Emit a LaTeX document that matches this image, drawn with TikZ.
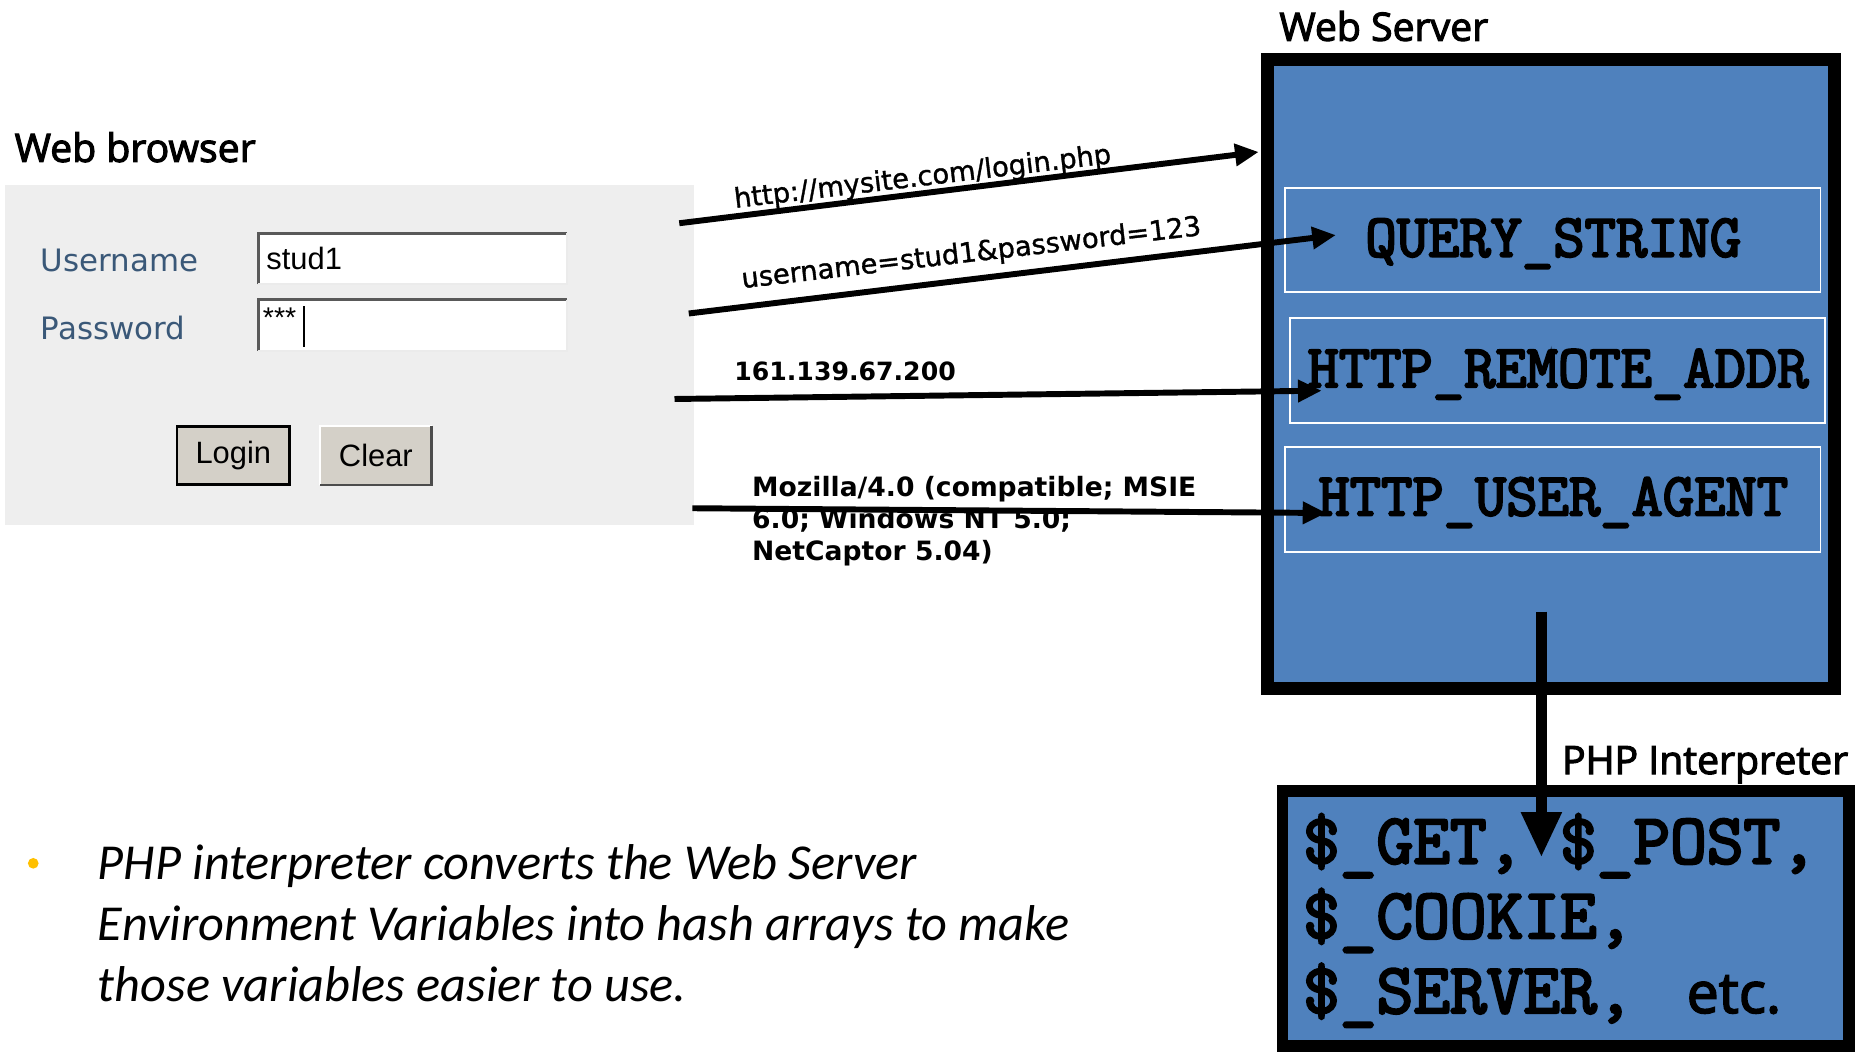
\documentclass[tikz,border=0pt]{standalone}
\usepackage{fontspec}
\setmainfont{Open Sans}
\newfontfamily\titlefont{Open Sans}[FakeBold=2.8]
\newfontfamily\labfont{DejaVu Sans}
\newfontfamily\labmed{DejaVu Sans}[FakeBold=1.2]
\newfontfamily\formfont{Liberation Sans}
\newfontfamily\bulfont{Carlito}
\newfontfamily\cmono{Latin Modern Mono}[FakeBold=3.5]
\usetikzlibrary{arrows.meta}
\definecolor{srvblue}{HTML}{4F81BD}
\definecolor{panelgray}{HTML}{EEEEEE}
\definecolor{btngray}{HTML}{D4D0C8}
\definecolor{lblblue}{HTML}{3A5878}
\definecolor{bulyellow}{HTML}{FFC000}
\begin{document}
\begin{tikzpicture}[x=0.5pt,y=-0.5pt,
  title/.style={font=\titlefont\fontsize{16.5pt}{19pt}\selectfont, inner sep=0pt},
  conn/.style={line width=2.5pt, -{Triangle[length=10pt,width=9pt]}},
  envbox/.style={draw=white, line width=0.8pt, minimum width=225.5pt, minimum height=44pt, inner sep=0pt},
  envtext/.style={font=\cmono\fontsize{25.6pt}{30pt}\selectfont, inner sep=0pt, anchor=base},
  phptext/.style={font=\cmono\fontsize{30pt}{34pt}\selectfont, inner sep=0pt, anchor=base west},
  arrlabel/.style={font=\labmed\fontsize{11.5pt}{13pt}\selectfont, inner sep=0pt},
  formlbl/.style={font=\labfont\fontsize{13pt}{15pt}\selectfont, text=lblblue, inner sep=0pt, anchor=west},
  formtxt/.style={font=\formfont\fontsize{13pt}{15pt}\selectfont, inner sep=0pt},
  fieldbox/.style={fill=white, minimum width=129.5pt, minimum height=21pt, inner sep=0pt},
  bultext/.style={font=\bulfont\itshape\fontsize{21.2pt}{25pt}\selectfont, inner sep=0pt, anchor=base west},
]
\useasboundingbox (0,0) rectangle (1568,886);

% ---------------- Web browser ----------------
\node[title, anchor=west] (wbtitle) at (12,124) {Web browser};
\node[fill=panelgray, minimum width=290pt, minimum height=143pt, inner sep=0pt] (browser) at (294,299) {};
\node[formlbl] (ulbl) at (34,219) {Username};
\node[formlbl] (plbl) at (34,276) {Password};

\node[fieldbox] (ufield) at (347.5,218) {};
\draw[black!65, line width=1.3pt] (ufield.south west) |- (ufield.north east);
\draw[black!8, line width=0.8pt] (ufield.south west) -| (ufield.north east);
\node[formtxt, anchor=west] (utext) at (224,218) {stud1};

\node[fieldbox] (pfield) at (347.5,274) {};
\draw[black!65, line width=1.3pt] (pfield.south west) |- (pfield.north east);
\draw[black!8, line width=0.8pt] (pfield.south west) -| (pfield.north east);
\node[formtxt, anchor=north west, font=\formfont\fontsize{12pt}{13pt}\selectfont] (ptext) at (221,259) {***};
\coordinate (curtop) at (256,258);
\coordinate (curbot) at (256,292);
\draw[line width=0.6pt] (curtop) -- (curbot);

\node[formtxt, fill=btngray, draw=black, line width=1.2pt, minimum width=47.5pt, minimum height=24.5pt] (login) at (196.5,383.5) {Login};
\node[formtxt, fill=btngray, minimum width=46.5pt, minimum height=24.5pt] (clear) at (316.5,383.5) {Clear};
\draw[white, line width=1pt] (clear.south west) |- (clear.north east);
\draw[black!70, line width=1.2pt] (clear.south west) -| (clear.north east);

% ---------------- Web server ----------------
\node[title, anchor=west] (wstitle) at (1077,22) {Web Server};
\node[draw=black, fill=srvblue, line width=5.5pt, minimum width=239pt, minimum height=265pt, inner sep=0pt] (server) at (1306,315) {};
\node[envbox] (qs) at (1307.5,202) {};
\node[envtext] (qst) at (1308,216) {QUERY\_STRING};
\node[envbox] (ra) at (1311.5,312) {};
\node[envtext] (rat) at (1312,326) {HTTP\_REMOTE\_ADDR};
\node[envbox] (ua) at (1307.5,420.5) {};
\node[envtext] (uat) at (1308,434) {HTTP\_USER\_AGENT};

% ---------------- PHP interpreter ----------------
\node[title, anchor=west] (phptitle) at (1315,644) {PHP Interpreter};
\node[draw=black, fill=srvblue, line width=5pt, minimum width=238.5pt, minimum height=107.5pt, inner sep=0pt] (php) at (1318.5,773.5) {};
\node[phptext] (g1) at (1097,727) {\$\_GET, \$\_POST,};
\node[phptext] (g2) at (1097,790) {\$\_COOKIE,};
\node[phptext] (g3) at (1097,853) {\$\_SERVER,};
\node[inner sep=0pt, anchor=base west, font=\titlefont\fontsize{24pt}{28pt}\selectfont] (etc) at (1420,853) {etc.};

% ---------------- connectors ----------------
\coordinate (a1s) at (572,188);  \coordinate (a1e) at (1060,128);
\coordinate (a2s) at (580,264);  \coordinate (a2e) at (1125,198);
\coordinate (a3s) at (568,336);  \coordinate (a3e) at (1113,329);
\coordinate (a4s) at (583,428);  \coordinate (a4e) at (1117,432);

\node[arrlabel, rotate=6.8] (l1) at (777,150) {http://mysite.com/login.php};
\node[arrlabel, rotate=6.6] (l2) at (818,214) {username=stud1\&password=123};
\node[arrlabel, font=\labfont\bfseries\fontsize{10.6pt}{12pt}\selectfont, anchor=west] (l3) at (618,313) {161.139.67.200};
\node[arrlabel, font=\labfont\bfseries\fontsize{11.2pt}{13.3pt}\selectfont, anchor=north west, align=left] (l4) at (633,401) {Mozilla/4.0 (compatible; MSIE\\6.0; Windows NT 5.0;\\NetCaptor 5.04)};

\draw[conn] (a1s) -- (a1e);
\draw[conn] (a2s) -- (a2e);
\draw[conn] (a3s) -- (a3e);
\draw[conn] (a4s) -- (a4e);

\coordinate (vs) at (1298,515);
\coordinate (ve) at (1298,722);
\draw[line width=4.5pt, -{Triangle[length=19pt,width=16pt]}] (vs) -- (ve);

% ---------------- bullet ----------------
\node[circle, fill=bulyellow, minimum size=4.5pt, inner sep=0pt] (bullet) at (28,727) {};
\node[bultext] (b1) at (82,741) {PHP interpreter converts the Web Server};
\node[bultext] (b2) at (82,792) {Environment Variables into hash arrays to make};
\node[bultext] (b3) at (82,843) {those variables easier to use.};
\end{tikzpicture}
\end{document}
